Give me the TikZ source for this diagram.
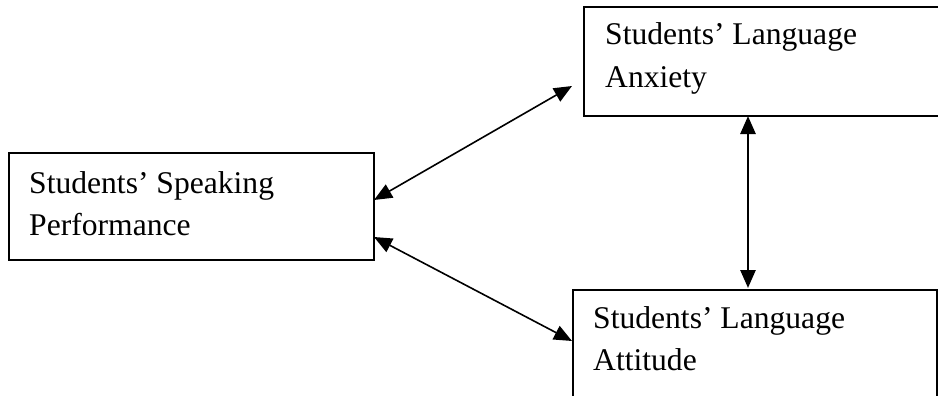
\documentclass[tikz,border=0pt]{standalone}
\usepackage{fontspec}
\setmainfont{Liberation Serif}
\usetikzlibrary{arrows.meta}
\begin{document}
\begin{tikzpicture}[x=1pt,y=-1pt,
  box/.style={draw,line width=1.8pt,rectangle,inner sep=0pt},
  lbl/.style={anchor=base west,inner sep=0pt,font=\fontsize{31.6}{43}\selectfont},
  biarrow/.style={line width=1.6pt,{Triangle[length=18pt,width=15pt]}-{Triangle[length=18pt,width=15pt]}},
  thickarrow/.style={line width=2.6pt,{Triangle[length=18pt,width=15pt]}-{Triangle[length=18pt,width=15pt]}}]
\useasboundingbox (0,0) rectangle (938,396);
\fill[white] (0,0) rectangle (938,396);
% boxes
\node[box,anchor=north west,minimum width=365pt,minimum height=107pt] (L) at (8,152) {};
\node[box,anchor=north west,minimum width=370pt,minimum height=109pt] (T) at (583,6) {};
\node[box,anchor=north west,minimum width=364pt,minimum height=140pt] (B) at (572,289) {};
% texts
\node[lbl] (L1) at (29,193) {Students’ Speaking};
\node[lbl] (L2) at (29,235) {Performance};
\node[lbl] (T1) at (605,45) {Students’ Language};
\node[lbl] (T2) at (605,88) {Anxiety};
\node[lbl] (B1) at (593,328) {Students’ Language};
\node[lbl] (B2) at (593,370) {Attitude};
% connector ends
\coordinate (a1) at (374,200);
\coordinate (a2) at (572,86);
\coordinate (b1) at (374,237);
\coordinate (b2) at (572,341);
\coordinate (c1) at (748,116);
\coordinate (c2) at (748,288);
\draw[biarrow] (a1) -- (a2);
\draw[biarrow] (b1) -- (b2);
\draw[thickarrow] (c1) -- (c2);
\end{tikzpicture}
\end{document}
